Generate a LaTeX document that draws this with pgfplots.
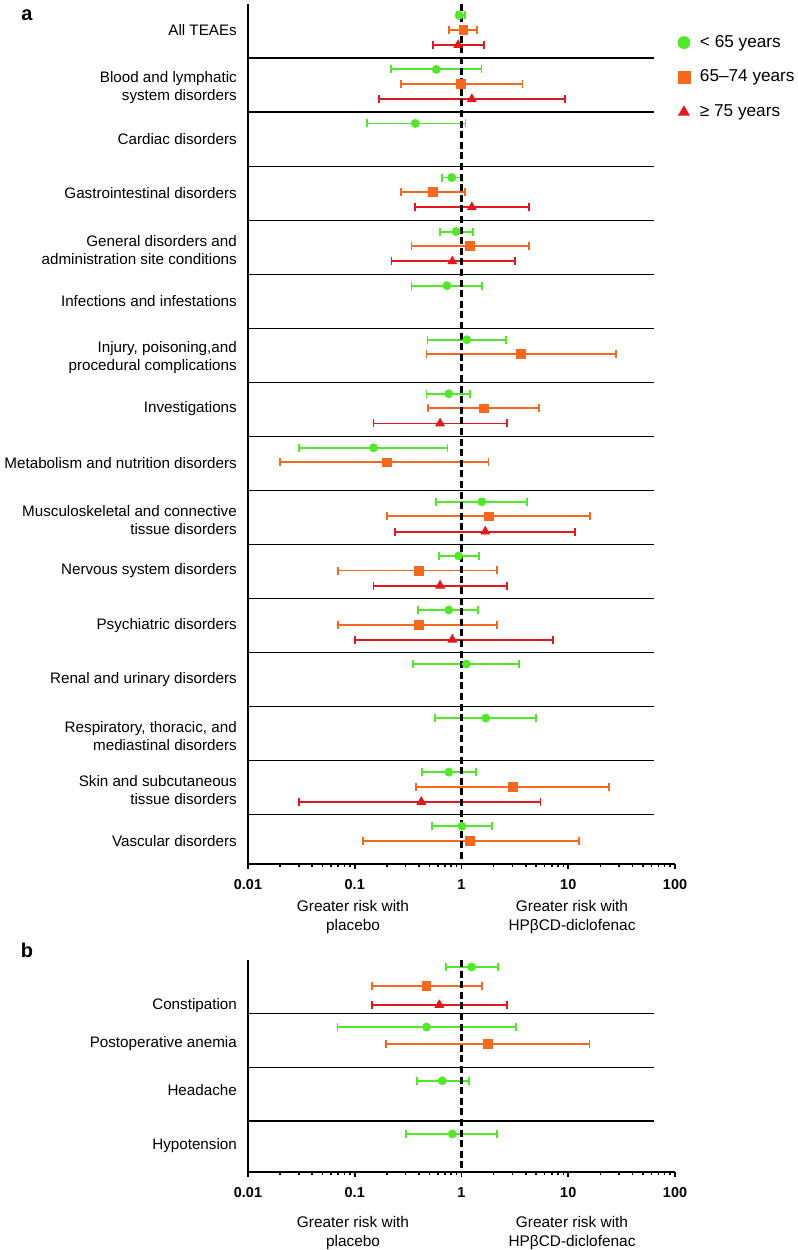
\documentclass[border=0pt]{standalone}
\usepackage{fontspec}
\setmainfont{Liberation Sans}
\setsansfont{Liberation Sans}
\usepackage{pgfplots}
\pgfplotsset{compat=1.18}
\usepackage{pgfplotstable}

\definecolor{cgreen}{RGB}{80,232,40}
\definecolor{corange}{RGB}{245,105,30}
\definecolor{cred}{RGB}{225,25,30}

% panel a: x = estimate, lo/hi = CI, y = -(row position)
\pgfplotstableread{
x lo hi y
0.95 0.90 1.08 -0.21
0.58 0.22 1.54 -1.21
0.37 0.13 1.09 -2.21
0.81 0.66 1.01 -3.21
0.89 0.63 1.27 -4.21
0.73 0.34 1.57 -5.21
1.12 0.48 2.62 -6.21
0.76 0.47 1.20 -7.21
0.15 0.030 0.74 -8.21
1.55 0.58 4.13 -9.21
0.94 0.62 1.45 -10.21
0.76 0.39 1.43 -11.21
1.11 0.35 3.45 -12.21
1.69 0.57 5.00 -13.21
0.76 0.43 1.36 -14.21
1.01 0.53 1.94 -15.21
}\agreen
\pgfplotstableread{
x lo hi y
1.04 0.76 1.41 -0.48
0.98 0.27 3.73 -1.48
0.54 0.27 1.08 -3.48
1.20 0.34 4.25 -4.48
3.63 0.47 27.8 -6.48
1.61 0.49 5.31 -7.48
0.20 0.020 1.79 -8.48
1.80 0.20 16.1 -9.48
0.40 0.070 2.16 -10.48
0.40 0.070 2.16 -11.48
3.01 0.376 23.9 -14.48
1.20 0.12 12.5 -15.48
}\aorange
\pgfplotstableread{
x lo hi y
0.93 0.54 1.63 -0.76
1.25 0.169 9.37 -1.76
1.25 0.37 4.25 -3.76
0.82 0.221 3.19 -4.76
0.63 0.15 2.68 -7.76
1.67 0.239 11.5 -9.76
0.63 0.15 2.68 -10.76
0.82 0.10 7.23 -11.76
0.42 0.030 5.50 -14.76
}\ared
% panel b
\pgfplotstableread{
x lo hi y
1.24 0.72 2.21 -0.13
0.47 0.069 3.25 -1.25
0.66 0.385 1.17 -2.25
0.82 0.30 2.16 -3.24
}\bgreen
\pgfplotstableread{
x lo hi y
0.47 0.146 1.55 -0.48
1.78 0.197 15.8 -1.56
}\borange
\pgfplotstableread{
x lo hi y
0.62 0.146 2.66 -0.84
}\bred

\pgfplotsset{
  /pgfplots/table/ciplot/.style={x=x, y=y, x error plus expr=\thisrow{hi}-\thisrow{x}, x error minus expr=\thisrow{x}-\thisrow{lo}},
  ciA/.style={only marks, color=#1, mark options={fill=#1, draw=#1},
    error bars/x dir=both, error bars/x explicit,
    error bars/error bar style={line width=0.95pt, color=#1},
    error bars/error mark=|,
    error bars/error mark options={line width=0.95pt, mark size=2pt, color=#1}},
}

\begin{document}
\begin{tikzpicture}
\path[use as bounding box] (0,0) rectangle (399pt,-625pt);

% ---------- panel a ----------
\begin{axis}[
  scale only axis, width=213.5pt, height=430pt,
  at={(124pt,-432pt)}, anchor=south west,
  xmode=log, xmin=0.01, xmax=100, ymin=-15.91, ymax=0,
  axis x line*=bottom, axis y line*=left,
  axis line style={line width=1pt, black},
  xtick={0.01,0.1,1,10,100},
  xticklabels={0.01,0.1,1,10,100},
  minor xtick={0.02,0.03,0.04,0.05,0.06,0.07,0.08,0.09,0.2,0.3,0.4,0.5,0.6,0.7,0.8,0.9,2,3,4,5,6,7,8,9,20,30,40,50,60,70,80,90},
  tick align=outside,
  major tick length=2.4pt, minor tick length=1.4pt,
  xtick style={line width=0.8pt, black},
  ytick style={draw=none},
  xticklabel style={font=\bfseries\fontsize{7.2}{8}\selectfont, yshift=-2pt},
  yticklabel style={font=\fontsize{7.6}{9}\selectfont, align=right, inner sep=0pt, xshift=-3pt},
  clip=false,
  ytick={-0.49,-1.55,-2.49,-3.49,-4.55,-5.49,-6.55,-7.49,-8.49,-9.55,-10.49,-11.49,-12.49,-13.55,-14.55,-15.49},
  yticklabels={All TEAEs,
    {Blood and lymphatic\\system disorders},
    Cardiac disorders,
    Gastrointestinal disorders,
    {General disorders and\\administration site conditions},
    Infections and infestations,
    {Injury, poisoning,and\\procedural complications},
    Investigations,
    Metabolism and nutrition disorders,
    {Musculoskeletal and connective\\tissue disorders},
    Nervous system disorders,
    Psychiatric disorders,
    Renal and urinary disorders,
    {Respiratory, thoracic, and\\mediastinal disorders},
    {Skin and subcutaneous\\tissue disorders},
    Vascular disorders},
  legend style={at={(axis description cs:1.004,0.969)}, anchor=north west, draw=none, fill=none,
    font=\fontsize{8.6}{10}\selectfont, row sep=5.9pt, inner sep=0pt},
  legend cell align=left,
  legend image code/.code={\draw[#1, mark size=3pt] plot coordinates {(0.12cm,0cm)}; \path[draw=none] (0cm,0cm) -- (0.12cm+6pt,0cm);},
]
\pgfplotsinvokeforeach{1,...,15}{\draw[line width=0.65pt, black] (axis cs:0.01,-#1) -- (axis cs:63,-#1);}
\addplot[mark=*, mark size=2pt, ciA=cgreen] table[ciplot] {\agreen};
\addlegendentry{< 65 years}
\addplot[mark=square*, mark size=2.2pt, ciA=corange] table[ciplot] {\aorange};
\addlegendentry{65–74 years}
\addplot[mark=triangle*, mark size=2.5pt, ciA=cred] table[ciplot] {\ared};
\addlegendentry{≥ 75 years}
\draw[line width=1.6pt, black, dash pattern=on 3.5pt off 1.8pt] (axis cs:1,0) -- (axis cs:1,-15.91);
\end{axis}

% ---------- panel b ----------
\begin{axis}[
  scale only axis, width=213.5pt, height=106pt,
  at={(124pt,-586pt)}, anchor=south west,
  xmode=log, xmin=0.01, xmax=100, ymin=-3.95, ymax=0,
  axis x line*=bottom, axis y line*=left,
  axis line style={line width=1pt, black},
  xtick={0.01,0.1,1,10,100},
  xticklabels={0.01,0.1,1,10,100},
  minor xtick={0.02,0.03,0.04,0.05,0.06,0.07,0.08,0.09,0.2,0.3,0.4,0.5,0.6,0.7,0.8,0.9,2,3,4,5,6,7,8,9,20,30,40,50,60,70,80,90},
  tick align=outside,
  major tick length=2.4pt, minor tick length=1.4pt,
  xtick style={line width=0.8pt, black},
  ytick style={draw=none},
  xticklabel style={font=\bfseries\fontsize{7.2}{8}\selectfont, yshift=-2pt},
  yticklabel style={font=\fontsize{7.6}{9}\selectfont, align=right, inner sep=0pt, xshift=-3pt},
  clip=false,
  ytick={-0.84,-1.55,-2.42,-3.45},
  yticklabels={Constipation, Postoperative anemia, Headache, Hypotension},
]
\pgfplotsinvokeforeach{1,2,3}{\draw[line width=0.65pt, black] (axis cs:0.01,-#1) -- (axis cs:63,-#1);}
\addplot[mark=*, mark size=2pt, ciA=cgreen] table[ciplot] {\bgreen};
\addplot[mark=square*, mark size=2.2pt, ciA=corange] table[ciplot] {\borange};
\addplot[mark=triangle*, mark size=2.5pt, ciA=cred] table[ciplot] {\bred};
\draw[line width=1.6pt, black, dash pattern=on 3.5pt off 1.8pt] (axis cs:1,0) -- (axis cs:1,-3.95);
\end{axis}

% panel letters and direction captions
\node[font=\bfseries\fontsize{10}{12}\selectfont] at (13.5pt,-7.5pt) {a};
\node[font=\bfseries\fontsize{10}{12}\selectfont] at (13.5pt,-475pt) {b};
\node[font=\fontsize{7.7}{9.5}\selectfont, align=center] at (176.5pt,-458.6pt) {Greater risk with\\placebo};
\node[font=\fontsize{7.7}{9.5}\selectfont, align=center] at (286pt,-458.6pt) {Greater risk with\\HPβCD-diclofenac};
\node[font=\fontsize{7.7}{9.5}\selectfont, align=center] at (176.5pt,-616.5pt) {Greater risk with\\placebo};
\node[font=\fontsize{7.7}{9.5}\selectfont, align=center] at (286pt,-616.5pt) {Greater risk with\\HPβCD-diclofenac};
\end{tikzpicture}
\end{document}
